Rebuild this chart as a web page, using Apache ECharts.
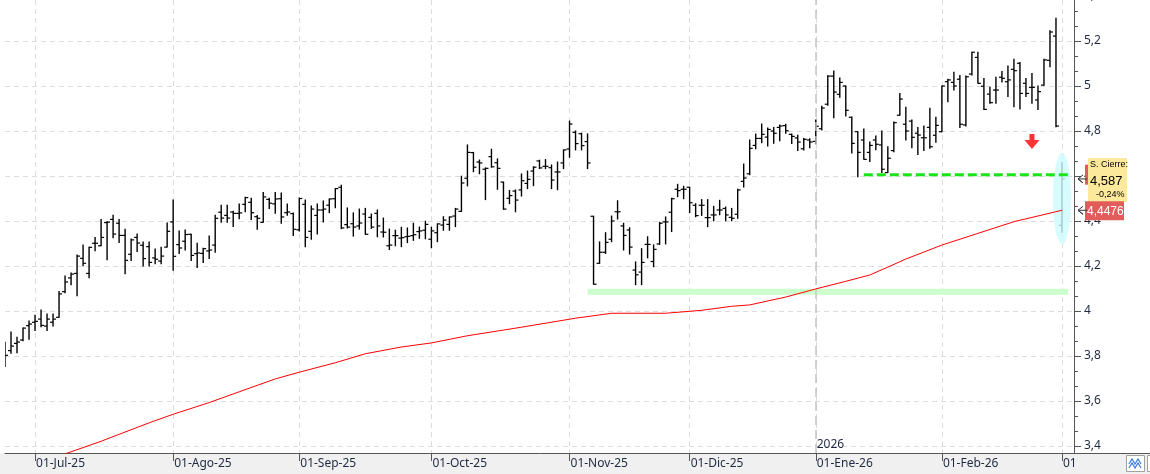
<!DOCTYPE html>
<html>
<head>
<meta charset="utf-8">
<script src="https://cdn.jsdelivr.net/npm/echarts@6/dist/echarts.min.js"></script>
<style>
html, body { margin: 0; padding: 0; background: #fff; }
#chart { width: 1150px; height: 474px; }
</style>
</head>
<body>
<div id="chart"></div>
<script>
// daily bars, 24-Jun-25 .. 02-Mar-26
var openP = [3.781,3.824,3.856,3.871,3.935,3.950,3.964,3.933,3.950,3.972,
  4.086,4.147,4.167,4.234,4.167,4.301,4.290,4.393,4.407,4.390,
  4.336,4.252,4.327,4.292,4.286,4.236,4.222,4.284,4.396,4.295,
  4.310,4.341,4.255,4.256,4.267,4.293,4.439,4.425,4.440,4.434,
  4.474,4.483,4.419,4.394,4.496,4.476,4.499,4.437,4.433,4.361,
  4.474,4.354,4.425,4.449,4.470,4.499,4.550,4.384,4.388,4.378,
  4.431,4.416,4.434,4.351,4.290,4.335,4.324,4.330,4.335,4.353,
  4.359,4.319,4.348,4.382,4.385,4.422,4.443,4.590,4.704,4.662,
  4.630,4.686,4.659,4.573,4.501,4.533,4.538,4.567,4.622,4.667,
  4.643,4.637,4.618,4.658,4.720,4.794,4.788,4.753,4.421,4.212,
  4.261,4.319,4.441,4.378,4.360,4.182,4.173,4.296,4.220,4.298,
  4.396,4.439,4.541,4.541,4.550,4.470,4.470,4.415,4.427,4.449,
  4.456,4.416,4.430,4.576,4.610,4.736,4.767,4.773,4.800,4.816,
  4.824,4.785,4.769,4.721,4.760,4.754,4.810,4.919,5.044,4.963,
  5.000,4.861,4.797,4.760,4.705,4.760,4.738,4.615,4.713,4.870,
  4.830,4.844,4.790,4.770,4.816,4.781,4.797,5.019,5.016,5.030,
  4.827,5.053,5.127,4.999,4.964,4.982,5.039,5.019,5.074,5.101,
  5.012,4.994,4.938,5.004,5.114,5.222,4.381];
var highP = [3.861,3.907,3.883,3.925,3.956,3.981,4.004,3.987,3.987,4.087,
  4.156,4.169,4.249,4.293,4.283,4.327,4.407,4.397,4.425,4.407,
  4.363,4.320,4.342,4.307,4.307,4.276,4.283,4.391,4.493,4.356,
  4.360,4.341,4.301,4.279,4.333,4.425,4.470,4.470,4.443,4.476,
  4.505,4.501,4.424,4.527,4.501,4.527,4.524,4.476,4.436,4.502,
  4.493,4.467,4.476,4.489,4.498,4.544,4.559,4.458,4.436,4.453,
  4.456,4.431,4.449,4.413,4.364,4.359,4.372,4.369,4.390,4.373,
  4.399,4.372,4.387,4.419,4.418,4.456,4.599,4.738,4.705,4.671,
  4.636,4.719,4.676,4.573,4.536,4.538,4.609,4.622,4.641,4.670,
  4.673,4.649,4.662,4.716,4.844,4.800,4.790,4.787,4.421,4.307,
  4.348,4.422,4.490,4.390,4.370,4.218,4.277,4.330,4.294,4.394,
  4.418,4.501,4.563,4.554,4.550,4.477,4.495,4.495,4.465,4.492,
  4.462,4.456,4.541,4.653,4.760,4.787,4.831,4.813,4.816,4.827,
  4.830,4.787,4.781,4.767,4.766,4.849,4.910,5.046,5.067,5.036,
  5.000,4.862,4.797,4.809,4.751,4.778,4.800,4.730,4.840,4.967,
  4.905,4.849,4.815,4.822,4.901,4.861,5.000,5.030,5.061,5.047,
  5.044,5.150,5.150,5.033,4.994,5.039,5.064,5.089,5.119,5.104,
  5.033,5.056,5.000,5.119,5.246,5.301,4.659];
var lowP = [3.753,3.812,3.815,3.868,3.874,3.913,3.930,3.913,3.933,3.972,
  4.081,4.117,4.068,4.201,4.148,4.268,4.290,4.228,4.326,4.304,
  4.166,4.224,4.264,4.200,4.200,4.210,4.210,4.284,4.181,4.255,
  4.271,4.224,4.193,4.216,4.233,4.261,4.394,4.394,4.376,4.410,
  4.441,4.407,4.363,4.394,4.455,4.434,4.390,4.425,4.336,4.356,
  4.286,4.319,4.342,4.396,4.437,4.459,4.366,4.369,4.333,4.364,
  4.341,4.367,4.330,4.329,4.273,4.290,4.286,4.304,4.314,4.323,
  4.321,4.281,4.308,4.359,4.359,4.375,4.443,4.556,4.619,4.610,
  4.495,4.639,4.541,4.452,4.477,4.441,4.511,4.544,4.557,4.633,
  4.633,4.544,4.539,4.633,4.683,4.716,4.716,4.633,4.119,4.212,
  4.256,4.308,4.409,4.271,4.253,4.117,4.117,4.236,4.197,4.296,
  4.298,4.353,4.508,4.499,4.437,4.419,4.425,4.375,4.401,4.428,
  4.401,4.401,4.412,4.551,4.606,4.721,4.748,4.733,4.745,4.757,
  4.790,4.744,4.713,4.716,4.726,4.744,4.804,4.914,4.859,4.950,
  4.867,4.702,4.597,4.674,4.664,4.717,4.615,4.615,4.708,4.870,
  4.760,4.726,4.696,4.713,4.723,4.750,4.797,4.930,4.982,4.816,
  4.822,5.049,5.012,4.896,4.923,4.923,5.018,4.953,4.908,4.898,
  4.953,4.923,4.895,5.003,5.086,4.819,4.350];
var closeP = [3.803,3.844,3.862,3.924,3.942,3.954,3.936,3.964,3.964,4.076,
  4.129,4.164,4.244,4.212,4.283,4.301,4.327,4.395,4.342,4.336,
  4.225,4.316,4.302,4.233,4.216,4.230,4.244,4.354,4.243,4.280,
  4.340,4.247,4.258,4.277,4.271,4.412,4.413,4.413,4.434,4.436,
  4.504,4.437,4.412,4.507,4.479,4.498,4.418,4.440,4.363,4.500,
  4.327,4.453,4.449,4.453,4.498,4.544,4.369,4.373,4.373,4.391,
  4.341,4.373,4.378,4.350,4.293,4.335,4.326,4.332,4.339,4.356,
  4.385,4.356,4.387,4.404,4.418,4.453,4.569,4.705,4.639,4.658,
  4.634,4.641,4.634,4.453,4.513,4.493,4.579,4.585,4.639,4.636,
  4.643,4.582,4.618,4.716,4.831,4.744,4.735,4.658,4.119,4.261,
  4.305,4.400,4.441,4.336,4.284,4.161,4.216,4.296,4.274,4.390,
  4.396,4.499,4.535,4.541,4.481,4.424,4.470,4.415,4.427,4.449,
  4.427,4.412,4.538,4.591,4.723,4.767,4.785,4.807,4.790,4.822,
  4.801,4.776,4.751,4.763,4.751,4.821,4.902,5.044,4.973,5.016,
  4.892,4.745,4.705,4.674,4.736,4.741,4.630,4.679,4.837,4.942,
  4.800,4.772,4.782,4.770,4.730,4.825,5.000,5.027,5.000,4.830,
  5.041,5.150,5.012,4.896,4.926,4.982,5.034,5.027,5.068,4.967,
  4.967,4.994,4.975,5.116,5.240,4.822,4.587];

// moving average (red), read at these bar positions
var maIdx = [0, 10, 16, 24, 28, 34, 39, 45, 49, 55, 60, 66, 71, 77, 82, 86, 95, 101, 110, 116,
  121, 124, 130, 135, 140, 144, 147, 150, 156, 162, 168, 176];
var maVal = [3.270, 3.365, 3.421, 3.503, 3.541, 3.593, 3.641, 3.698, 3.728, 3.770, 3.810, 3.840,
  3.858, 3.890, 3.911, 3.928, 3.968, 3.990, 3.990, 4.003, 4.021, 4.027, 4.062, 4.098, 4.132,
  4.160, 4.195, 4.231, 4.293, 4.345, 4.397, 4.4476];

// first session of each month
var monthIdx = [5, 28, 49, 71, 94, 114, 135, 156, 176];
var monthLabels = ['01-Jul-25', '01-Ago-25', '01-Sep-25', '01-Oct-25', '01-Nov-25',
  '01-Dic-25', '01-Ene-26', '01-Feb-26', '01-Mar-26'];

var soporte = [97, 177, 4.086];     // from, to, level (light green)
var resistencia = [143, 177, 4.606]; // green dashed
var flecha = [171, 4.753];
var elipse = [176, 4.50];
var cierreAnt = 4.587;
var cierreVar = '-0,24%';
var mediaUlt = 4.4476;

var nCats = 179;
var cats = [];
for (var i = 0; i < nCats; i++) cats.push(String(i));

var ohlc = [];
for (var i = 0; i < openP.length; i++) {
  ohlc.push([i, openP[i], closeP[i], lowP[i], highP[i]]);
}
var maData = maIdx.map(function (d, k) { return [d, maVal[k]]; });

var txtColor = '#1f2940';
var font = 'Noto Sans';

function isMonth(index) { return monthIdx.indexOf(index) >= 0; }
function coma(v) { return String(+(+v).toFixed(4)).replace('.', ','); }

var dom = document.getElementById('chart');
var chart = echarts.init(dom, null, { renderer: 'canvas' });

var option = {
  animation: false,
  backgroundColor: '#fff',
  grid: {
    left: 5, right: 76, top: -9, bottom: 21,
    containLabel: false,
    outerBoundsMode: 'none'
  },
  xAxis: {
    type: 'category',
    data: cats,
    boundaryGap: false,
    axisLine: { lineStyle: { color: '#555', width: 1 } },
    axisTick: { interval: function (index) { return isMonth(index); }, length: 8, lineStyle: { color: '#555' } },
    axisLabel: {
      interval: function (index) { return isMonth(index); },
      formatter: function (value, index) { return monthLabels[monthIdx.indexOf(index)] || ''; },
      align: 'left',
      margin: 5,
      padding: [0, 0, 0, 1],
      color: txtColor,
      fontFamily: font,
      fontSize: 12,
      showMinLabel: true,
      showMaxLabel: true
    },
    splitLine: {
      show: true,
      interval: function (index) { return isMonth(index); },
      lineStyle: { color: '#dcdcdc', type: [5, 4] }
    }
  },
  yAxis: {
    type: 'value',
    position: 'right',
    min: 3.3689,
    max: 5.4222,
    splitNumber: 10,
    axisLine: { show: true, lineStyle: { color: '#555' } },
    axisTick: { show: true, length: 7, lineStyle: { color: '#555' } },
    minorTick: { show: true, splitNumber: 3, length: 4, lineStyle: { color: '#555' } },
    axisLabel: {
      margin: 10,
      color: txtColor,
      fontFamily: font,
      fontSize: 12,
      showMinLabel: false,
      showMaxLabel: false,
      formatter: function (v) { return coma(v); }
    },
    splitLine: { show: true, lineStyle: { color: '#dcdcdc', type: [5, 4] } }
  },
  series: [
    {
      name: 'marca',
      type: 'scatter',
      symbol: 'circle',
      symbolSize: [18, 92],
      itemStyle: { color: '#ccfbff' },
      silent: true,
      data: [elipse]
    },
    {
      name: 'soporte',
      type: 'line',
      symbol: 'none',
      silent: true,
      lineStyle: { color: '#ccffcc', width: 6 },
      data: [[soporte[0], soporte[2]], [soporte[1], soporte[2]]]
    },
    {
      name: 'media',
      type: 'line',
      symbol: 'none',
      silent: true,
      lineStyle: { color: '#ff0000', width: 1 },
      data: maData,
      markLine: {
        silent: true,
        symbol: ['none', 'none'],
        label: { show: false },
        lineStyle: { color: '#c4c4c4', type: [9, 5], width: 1.5 },
        data: [{ xAxis: 135 }]
      }
    },
    {
      name: 'OHLC',
      type: 'custom',
      clip: true,
      dimensions: ['i', 'open', 'close', 'low', 'high'],
      encode: { x: 0, y: [1, 2, 3, 4] },
      renderItem: function (params, api) {
        var i = api.value(0);
        var h = api.coord([i, api.value(4)]);
        var l = api.coord([i, api.value(3)]);
        var o = api.coord([i, api.value(1)]);
        var c = api.coord([i, api.value(2)]);
        var st = { stroke: '#000', lineWidth: 1.4 };
        return {
          type: 'group',
          children: [
            { type: 'line', shape: { x1: h[0], y1: h[1] - 0.5, x2: l[0], y2: l[1] + 0.5 }, style: st },
            { type: 'line', shape: { x1: o[0] - 3, y1: o[1], x2: o[0], y2: o[1] }, style: { stroke: '#000', lineWidth: 1.2 } },
            { type: 'line', shape: { x1: c[0], y1: c[1], x2: c[0] + 3, y2: c[1] }, style: { stroke: '#000', lineWidth: 1.2 } }
          ]
        };
      },
      data: ohlc
    },
    {
      name: 'resistencia',
      type: 'line',
      symbol: 'none',
      silent: true,
      lineStyle: { color: '#19e619', width: 3, type: [9, 4] },
      data: [[resistencia[0], resistencia[2]], [resistencia[1], resistencia[2]]]
    },
    {
      name: 'senal',
      type: 'scatter',
      symbol: 'path://M5,0L10,0L10,6L15,6L7.5,15L0,6L5,6Z',
      symbolSize: [15, 15],
      itemStyle: { color: '#ff0000' },
      silent: true,
      data: [flecha]
    }
  ]
};

chart.setOption(option);

// right-hand tags and bottom strip
function py(v) { return chart.convertToPixel({ xAxisIndex: 0, yAxisIndex: 0 }, [0, v])[1]; }
function px(i) { return chart.convertToPixel({ xAxisIndex: 0, yAxisIndex: 0 }, [i, 4])[0]; }

var yCierre = py(cierreAnt);
var yMedia = py(mediaUlt);
var yRes = py(resistencia[2]);
var x2026 = px(135);

function flechita(y) {
  return {
    type: 'polyline', z: 101, silent: true,
    shape: { points: [[1083, y - 4], [1078, y], [1083, y + 4], [1078, y], [1087, y]] },
    style: { stroke: '#333', lineWidth: 1, fill: null }
  };
}

chart.setOption({
  graphic: [
    { type: 'rect', z: -1, silent: true, shape: { x: 0, y: 453, width: 1150, height: 21 }, style: { fill: '#f0f0f0' } },
    { type: 'rect', z: 100, silent: true, shape: { x: 1075, y: 454, width: 75, height: 20 }, style: { fill: '#f0f0f0' } },
    { type: 'line', z: 100, silent: true, shape: { x1: 1074, y1: 453.5, x2: 1150, y2: 453.5 }, style: { stroke: '#555', lineWidth: 1 } },
    { type: 'rect', z: 101, silent: true, shape: { x: 1126.5, y: 455.5, width: 18, height: 16 }, style: { fill: '#fff', stroke: '#a0a0a0', lineWidth: 1 } },
    { type: 'polyline', z: 102, silent: true, shape: { points: [[1129, 464], [1132, 459], [1135, 464], [1138, 459], [1141, 464]] }, style: { stroke: '#3b7ddd', lineWidth: 1.2, fill: null } },
    { type: 'polyline', z: 102, silent: true, shape: { points: [[1129, 468], [1132, 463], [1135, 468], [1138, 463], [1141, 468]] }, style: { stroke: '#3b7ddd', lineWidth: 1.2, fill: null } },
    { type: 'rect', z: 101, silent: true, shape: { x: 1147.5, y: 455.5, width: 6, height: 16 }, style: { fill: '#fff', stroke: '#a0a0a0', lineWidth: 1 } },
    { type: 'text', z: 5, silent: true, x: x2026 + 1, y: 451, style: { text: '2026', fill: txtColor, font: '12px "Noto Sans"', textVerticalAlign: 'bottom' } },
    // red tag of the dashed level, mostly hidden
    { type: 'rect', z: 100, silent: true, shape: { x: 1085, y: yRes - 10, width: 8, height: 20 }, style: { fill: '#e05a5a' } },
    // yellow tag
    { type: 'rect', z: 101, silent: true, shape: { x: 1088, y: yCierre - 21, width: 39, height: 44 }, style: { fill: '#fde99c' } },
    { type: 'text', z: 102, silent: true, x: 1090, y: yCierre - 14, style: { text: 'S. Cierre:', fill: '#000', font: '9px "Liberation Sans"', textVerticalAlign: 'middle' } },
    { type: 'text', z: 102, silent: true, x: 1090, y: yCierre + 2, style: { text: coma(cierreAnt), fill: '#000', font: '13px "Liberation Sans"', textVerticalAlign: 'middle' } },
    { type: 'text', z: 102, silent: true, x: 1096, y: yCierre + 16, style: { text: cierreVar, fill: '#000', font: '9px "Liberation Sans"', textVerticalAlign: 'middle' } },
    flechita(yCierre),
    // red tag of the moving average
    { type: 'rect', z: 101, silent: true, shape: { x: 1085, y: yMedia - 9, width: 39, height: 19 }, style: { fill: '#e25c5c' } },
    { type: 'text', z: 102, silent: true, x: 1087, y: yMedia + 1, style: { text: coma(mediaUlt), fill: '#fff', font: '12px "Liberation Sans"', textVerticalAlign: 'middle' } },
    flechita(yMedia)
  ]
});

window.addEventListener('resize', chart.resize);
</script>
</body>
</html>
